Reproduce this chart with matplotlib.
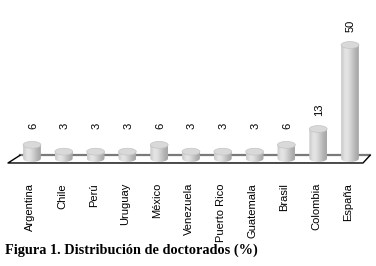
import numpy as np
import matplotlib
matplotlib.use('Agg')
import matplotlib.pyplot as plt
from matplotlib.patches import Polygon, Ellipse, PathPatch
from matplotlib.path import Path

# data
paises = ['Argentina', 'Chile', 'Perú', 'Uruguay', 'México', 'Venezuela',
          'Puerto Rico', 'Guatemala', 'Brasil', 'Colombia', 'España']
valores = [6, 3, 3, 3, 6, 3, 3, 3, 6, 13, 50]
etiquetas = ['6', '3', '3', '3', '6', '3', '3', '3', '6', '13', '50']

fig = plt.figure(figsize=(3.76, 2.66), dpi=100)
ax = fig.add_axes([0, 0, 1, 1])
ax.set_xlim(-1.006, 10.818)
ax.set_ylim(-47.36, 69.82)
ax.axis('off')

# floor
piso = Polygon([(-0.377, 1.4), (10.63, 1.4), (10.41, -1.98), (-0.755, -1.98)],
               closed=True, facecolor='white', edgecolor='none', zorder=1)
ax.add_patch(piso)
ax.plot([-0.377, 10.63], [1.4, 1.4], color='#7a7a7a', lw=1.6, zorder=1)
ax.plot([-0.377, -0.755, 10.41, 10.63], [1.4, -1.98, -1.98, 1.4],
        color='black', lw=1.0, zorder=1)

# gradient for the cylinder side
grad = np.array([[0.80, 0.86, 0.90, 0.88, 0.84, 0.79, 0.74, 0.69, 0.66]])
w = 0.28   # half width
h = 1.5    # half height of the ellipses

for i, v in enumerate(valores):
    # side of the cylinder with a rounded bottom
    t = np.linspace(np.pi, 2 * np.pi, 30)
    xs = list(i + w * np.cos(t)) + [i + w, i - w]
    ys = list(h * np.sin(t)) + [v, v]
    path = Path(list(zip(xs, ys)) + [(xs[0], ys[0])], closed=True)
    clip = PathPatch(path, facecolor='none', edgecolor='none')
    ax.add_patch(clip)
    im = ax.imshow(grad, cmap='gray', vmin=0, vmax=1, aspect='auto',
                   extent=(i - w, i + w, -h, v), interpolation='bicubic',
                   zorder=2)
    im.set_clip_path(clip)
    # top cap
    tapa = Ellipse((i, v), 2 * w, 2 * h, facecolor='#d9d9d9',
                   edgecolor='#c4c4c4', lw=0.5, zorder=3)
    ax.add_patch(tapa)
    # value label
    ax.text(i + 0.03, max(v, 6) + 8.5, etiquetas[i], rotation=90,
            ha='center', va='center', fontsize=8, family='Liberation Sans')
    # category label
    ax.text(i - 0.06, -10.8, paises[i], rotation=90, ha='center', va='top',
            fontsize=8, family='Liberation Sans')

fig.text(0.013, 0.045, 'Figura 1. Distribución de doctorados (%)',
         fontsize=10.3, family='Liberation Serif', weight='bold',
         va='baseline', ha='left')

fig.savefig('out.png', dpi=100)
